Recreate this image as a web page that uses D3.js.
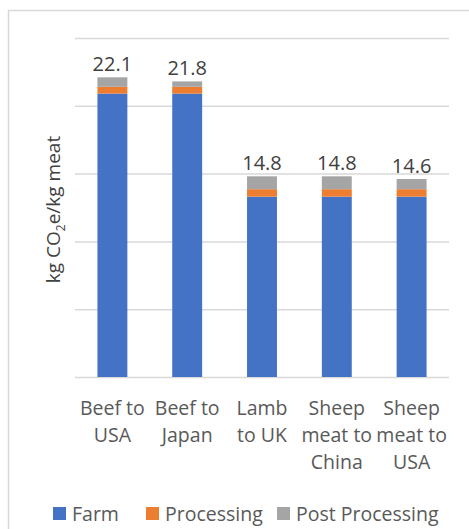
<!DOCTYPE html>
<html lang="en">
<head>
  <meta charset="UTF-8">
  <script src="https://d3js.org/d3.v7.min.js"></script>
  <style>
    body { margin: 0; background: #fff; }
    text { font-family: "Open Sans", sans-serif; fill: #595959; }
  </style>
</head>
<body>
<div id="my_dataviz"></div>
<script>
  // data
  var categories = ["Beef to\nUSA", "Beef to\nJapan", "Lamb\nto UK", "Sheep\nmeat to\nChina", "Sheep\nmeat to\nUSA"];
  var farm = [20.9, 20.9, 13.3, 13.3, 13.3];
  var processing = [0.5, 0.5, 0.55, 0.55, 0.55];
  var postProcessing = [0.7, 0.4, 0.95, 0.95, 0.75];
  var totals = [22.1, 21.8, 14.8, 14.8, 14.6];
  var seriesNames = ["Farm", "Processing", "Post Processing"];
  var gridTicks = [0, 5, 10, 15, 20, 25];

  var colors = ["#4472C4", "#ED7D31", "#A5A5A5"];

  var W = 469, H = 529;
  var marginLeft = 75, marginRight = 20, marginTop = 38, marginBottom = 152;
  var width = W - marginLeft - marginRight;
  var height = H - marginTop - marginBottom;

  var root = d3.select("#my_dataviz")
    .append("svg")
    .attr("width", W)
    .attr("height", H);

  // chart frame (runs off right and bottom edges)
  root.append("rect")
    .attr("x", 8.5).attr("y", 10.5)
    .attr("width", W + 20).attr("height", H + 20)
    .attr("fill", "none")
    .attr("stroke", "#d9d9d9")
    .attr("stroke-width", 1.5);

  var svg = root.append("g")
    .attr("transform", "translate(" + marginLeft + "," + marginTop + ")");

  var rows = categories.map(function(c, i) {
    return { cat: c, Farm: farm[i], Processing: processing[i], "Post Processing": postProcessing[i], total: totals[i] };
  });

  var x = d3.scaleBand()
    .domain(categories)
    .range([0, width])
    .paddingInner(0.6)
    .paddingOuter(0.3);

  var y = d3.scaleLinear()
    .domain([0, 25])
    .range([height, 0]);

  // gridlines
  var grid = svg.append("g")
    .call(d3.axisLeft(y).tickValues(gridTicks).tickSize(-width).tickFormat(""));
  grid.select(".domain").remove();
  grid.selectAll("line").attr("stroke", "#d9d9d9").attr("stroke-width", 1.5);

  // stacked bars
  var stack = d3.stack().keys(seriesNames)(rows);
  svg.selectAll("g.series")
    .data(stack)
    .enter()
    .append("g")
      .attr("class", "series")
      .attr("fill", function(d, i) { return colors[i]; })
    .selectAll("rect")
    .data(function(d) { return d; })
    .enter()
    .append("rect")
      .attr("x", function(d) { return x(d.data.cat); })
      .attr("y", function(d) { return y(d[1]); })
      .attr("width", x.bandwidth())
      .attr("height", function(d) { return y(d[0]) - y(d[1]); });

  // total labels
  svg.selectAll("text.total")
    .data(rows)
    .enter()
    .append("text")
      .attr("class", "total")
      .attr("x", function(d) { return x(d.cat) + x.bandwidth() / 2; })
      .attr("y", function(d) { return y(d.total) - 6; })
      .attr("text-anchor", "middle")
      .style("font-size", "20px")
      .style("fill", "#404040")
      .text(function(d) { return d.total.toFixed(1); });

  // category axis
  var xAxis = svg.append("g")
    .attr("transform", "translate(0," + height + ")")
    .call(d3.axisBottom(x).tickSize(0).tickFormat(""));
  xAxis.select(".domain").remove();
  xAxis.selectAll(".tick").each(function(c) {
    var t = d3.select(this).append("text")
      .attr("text-anchor", "middle")
      .style("font-size", "19.5px");
    c.split("\n").forEach(function(line, i) {
      t.append("tspan").attr("x", 0).attr("y", 38 + i * 27).text(line);
    });
  });

  // y axis title
  var title = root.append("text")
    .attr("transform", "translate(60," + (marginTop + height / 2 + 2) + ") rotate(-90)")
    .attr("text-anchor", "middle")
    .style("font-size", "19px")
    .style("fill", "#404040");
  title.append("tspan").text("kg CO");
  title.append("tspan").attr("dy", 5).style("font-size", "12px").text("2");
  title.append("tspan").attr("dy", -5).text("e/kg meat");

  // legend
  var legendX = [53, 146, 277];
  var legend = root.selectAll("g.legend")
    .data(seriesNames)
    .enter()
    .append("g")
      .attr("class", "legend")
      .attr("transform", function(d, i) { return "translate(" + legendX[i] + ",507)"; });
  legend.append("rect")
    .attr("width", 13).attr("height", 13)
    .attr("fill", function(d, i) { return colors[i]; });
  legend.append("text")
    .attr("x", 19).attr("y", 13.5)
    .style("font-size", "19.5px")
    .text(function(d) { return d; });
</script>
</body>
</html>
